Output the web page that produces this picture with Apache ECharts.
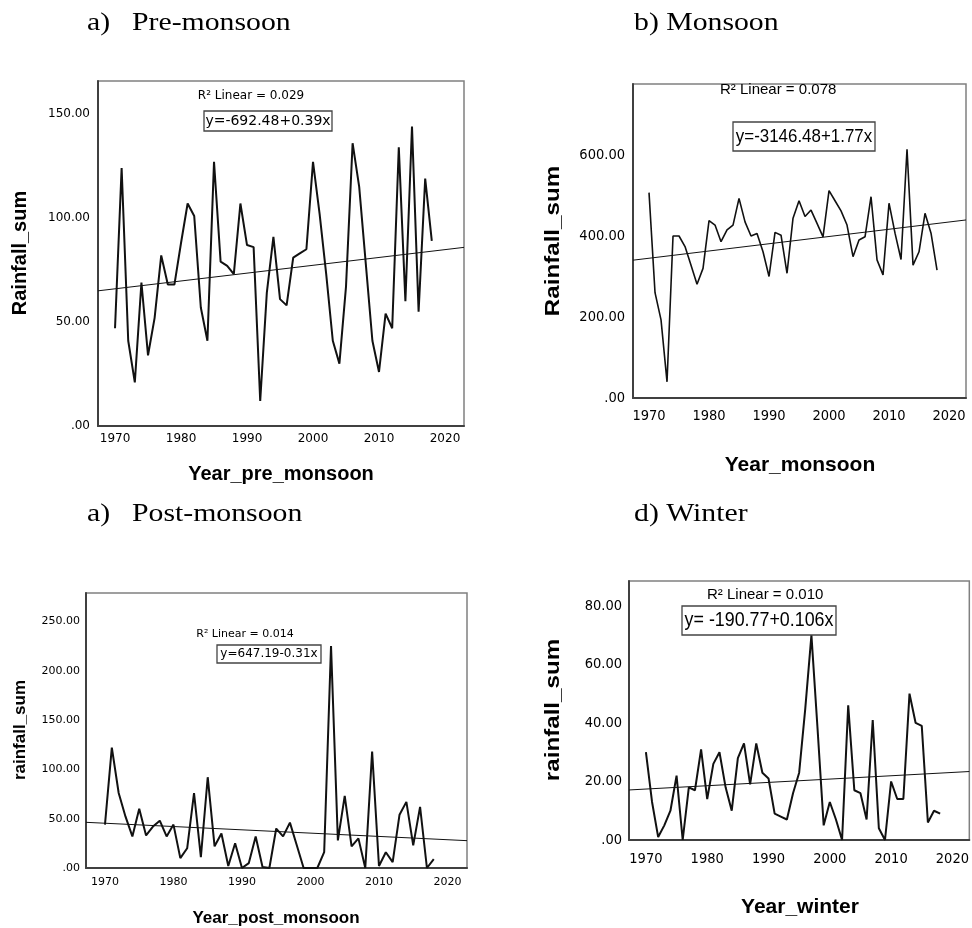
<!DOCTYPE html>
<html>
<head>
<meta charset="utf-8">
<title>Seasonal rainfall trend</title>
<script src="https://cdn.jsdelivr.net/npm/echarts@6/dist/echarts.min.js"></script>
<style>
  html, body { margin: 0; padding: 0; background: #fff; }
  #main { width: 972px; height: 928px; }
</style>
</head>
<body>
<div id="main"></div>
<script>
// years on the x axis
var years = [1970, 1971, 1972, 1973, 1974, 1975, 1976, 1977, 1978, 1979,
             1980, 1981, 1982, 1983, 1984, 1985, 1986, 1987, 1988, 1989,
             1990, 1991, 1992, 1993, 1994, 1995, 1996, 1997, 1998, 1999,
             2000, 2001, 2002, 2003, 2004, 2005, 2006, 2007, 2008, 2009,
             2010, 2011, 2012, 2013, 2014, 2015, 2016, 2017, 2018];

// seasonal rainfall sums
var preMonsoon = [47, 124, 41, 21, 69, 34, 52, 82, 68, 68,
                  88, 107, 101, 57, 41, 127, 79, 77, 73, 107,
                  87, 86, 12, 64, 91, 61, 58, 81, 83, 85,
                  127, 102, 73, 41, 30, 67, 136, 115, 78, 41,
                  26, 54, 47, 134, 60, 144, 55, 119, 89];
var monsoon = [507, 260, 193, 40, 400, 400, 374, 328, 281, 320,
               438, 427, 386, 415, 427, 493, 435, 400, 406, 361,
               300, 409, 402, 308, 444, 487, 448, 464, 431, 398,
               512, 487, 462, 427, 349, 390, 398, 497, 341, 304,
               481, 407, 342, 614, 328, 361, 456, 407, 316];
var postMonsoon = [44, 122, 76, 52, 32, 60, 33, 42, 48, 32,
                   44, 10, 20, 76, 11, 92, 22, 35, 2, 25,
                   0, 5, 32, 1, 0, 40, 32, 46, 23, 0,
                   0, 0, 16, 225, 28, 73, 22, 30, 0, 118,
                   2, 16, 6, 54, 67, 23, 62, 0, 9];
var winter = [30, 13, 1, 5, 10, 22, 0, 18, 17, 31,
              14, 26, 30, 18, 10, 28, 33, 19, 33, 23,
              21, 9, 8, 7, 16, 23, 45, 70, 38, 5,
              13, 7, 0, 46, 17, 16, 7, 41, 4, 0,
              20, 14, 14, 50, 40, 39, 6, 10, 9];

// fitted lines, ends at the axis limits
var trendPre = [[1967.42, 65.0], [2022.88, 85.9]];
var trendMon = [[1967.33, 340.3], [2022.83, 439.6]];
var trendPost = [[1967.23, 46.3], [2022.85, 27.7]];
var trendWin = [[1967.24, 17.1], [2022.76, 23.4]];

// tick labels
var xTicks = [1970, 1980, 1990, 2000, 2010, 2020];
var yTicksPre = [0, 50, 100, 150];
var yTicksMon = [0, 200, 400, 600];
var yTicksPost = [0, 50, 100, 150, 200, 250];
var yTicksWin = [0, 20, 40, 60, 80];

var NARROW = "'DejaVu Sans Condensed', 'Liberation Sans', sans-serif";
var WIDE = "'DejaVu Sans', sans-serif";
var SANS = "'Liberation Sans', Arial, sans-serif";
var SERIF = "'Liberation Serif', 'Times New Roman', serif";

var panels = [
  { grid: { left: 98, top: 81, width: 366, height: 345 }, xMin: 1967.42, xMax: 2022.88, yMax: 165.9,
    yTicks: yTicksPre, values: preMonsoon, trend: trendPre, font: WIDE, size: 12,
    yPad: 6, yMargin: 8, xMargin: 7, lw: 2 },
  { grid: { left: 633, top: 84, width: 333, height: 314 }, xMin: 1967.33, xMax: 2022.83, yMax: 775.3,
    yTicks: yTicksMon, values: monsoon, trend: trendMon, font: NARROW, size: 14.5,
    yPad: 10, yMargin: 8, xMargin: 11, lw: 1.6 },
  { grid: { left: 86, top: 593, width: 381, height: 275 }, xMin: 1967.23, xMax: 2022.85, yMax: 278.7,
    yTicks: yTicksPost, values: postMonsoon, trend: trendPost, font: WIDE, size: 11,
    yPad: 2, yMargin: 6, xMargin: 9, lw: 2 },
  { grid: { left: 629, top: 581, width: 342, height: 259 }, xMin: 1967.24, xMax: 2022.76, yMax: 88.5,
    yTicks: yTicksWin, values: winter, trend: trendWin, font: NARROW, size: 14.5,
    yPad: 8, yMargin: 7, xMargin: 12, lw: 2 }
];

function fmtY(v) {
  return v === 0 ? '.00' : v.toFixed(2);
}
function fmtX(v) {
  return '' + v;
}

var grids = [], xAxes = [], yAxes = [], series = [];
panels.forEach(function (p, i) {
  grids.push({
    left: p.grid.left, top: p.grid.top, width: p.grid.width, height: p.grid.height,
    show: true, borderColor: '#808080', borderWidth: 1.5, backgroundColor: '#fff'
  });
  xAxes.push({
    type: 'value', gridIndex: i, min: p.xMin, max: p.xMax,
    axisLine: { show: true, lineStyle: { color: '#404040', width: 2 } },
    axisTick: { show: false },
    splitLine: { show: false },
    axisLabel: { customValues: xTicks, formatter: fmtX, color: '#000', fontFamily: p.font,
                 fontSize: p.size, margin: p.xMargin }
  });
  yAxes.push({
    type: 'value', gridIndex: i, min: 0, max: p.yMax,
    axisLine: { show: true, lineStyle: { color: '#404040', width: 2 } },
    axisTick: { show: false },
    splitLine: { show: false },
    axisLabel: { customValues: p.yTicks, formatter: fmtY, color: '#000', fontFamily: p.font,
                 fontSize: p.size, margin: p.yMargin, padding: [p.yPad, 0, 0, 0] }
  });
  series.push({
    type: 'line', xAxisIndex: i, yAxisIndex: i, symbol: 'none',
    data: years.map(function (y, k) { return [y, p.values[k]]; }),
    lineStyle: { color: '#111', width: p.lw }
  });
  series.push({
    type: 'line', xAxisIndex: i, yAxisIndex: i, symbol: 'none',
    data: p.trend,
    lineStyle: { color: '#111', width: 1 }
  });
});

function label(x, y, text, font, opts) {
  var el = { type: 'text', x: x, y: y, z: 100,
    style: { text: text, font: font, fill: '#000', align: 'left', verticalAlign: 'middle' } };
  if (opts) {
    if (opts.align) el.style.align = opts.align;
    if (opts.rotation) el.rotation = opts.rotation;
    if (opts.scaleX) el.scaleX = opts.scaleX;
  }
  return el;
}
function eqBox(x, y, w, h, text, font, sx) {
  return [
    { type: 'rect', z: 99, shape: { x: x, y: y, width: w, height: h },
      style: { fill: '#fff', stroke: '#444', lineWidth: 1.3 } },
    { type: 'text', z: 100, x: x + w / 2, y: y + h / 2, scaleX: sx || 1,
      style: { text: text, font: font, fill: '#000', align: 'center', verticalAlign: 'middle' } }
  ];
}

var graphics = [
  // headings
  label(87, 23, 'a)', '25px ' + SERIF, { scaleX: 1.19 }),
  label(132, 23, 'Pre-monsoon', '25px ' + SERIF, { scaleX: 1.19 }),
  label(634, 23, 'b) Monsoon', '25px ' + SERIF, { scaleX: 1.19 }),
  label(87, 514, 'a)', '25px ' + SERIF, { scaleX: 1.19 }),
  label(132, 514, 'Post-monsoon', '25px ' + SERIF, { scaleX: 1.19 }),
  label(634, 514, 'd) Winter', '25px ' + SERIF, { scaleX: 1.19 }),

  // axis titles
  label(20, 253, 'Rainfall_sum', 'bold 20px ' + SANS, { align: 'center', rotation: Math.PI / 2 }),
  label(281, 474, 'Year_pre_monsoon', 'bold 20px ' + SANS, { align: 'center' }),
  label(553, 241, 'Rainfall_sum', 'bold 21px ' + SANS, { align: 'center', rotation: Math.PI / 2, scaleX: 1.15 }),
  label(800, 465, 'Year_monsoon', 'bold 21px ' + SANS, { align: 'center' }),
  label(20, 730, 'rainfall_sum', 'bold 17px ' + SANS, { align: 'center', rotation: Math.PI / 2 }),
  label(276, 918, 'Year_post_monsoon', 'bold 17px ' + SANS, { align: 'center' }),
  label(553, 710, 'rainfall_sum', 'bold 21px ' + SANS, { align: 'center', rotation: Math.PI / 2, scaleX: 1.15 }),
  label(800, 907, 'Year_winter', 'bold 21px ' + SANS, { align: 'center' }),

  // fit notes
  label(251, 96, 'R\u00b2 Linear = 0.029', '12px ' + WIDE, { align: 'center' }),
  label(720, 90, 'R\u00b2 Linear = 0.078', '15px ' + SANS),
  label(245, 634, 'R\u00b2 Linear = 0.014', '11px ' + WIDE, { align: 'center' }),
  label(707, 595, 'R\u00b2 Linear = 0.010', '15px ' + SANS),
  // the two right-hand notes are cut along their lower edge in the source
  { type: 'rect', z: 101, shape: { x: 712, y: 94, width: 130, height: 4 }, style: { fill: '#fff' } },
  { type: 'rect', z: 101, shape: { x: 700, y: 599, width: 130, height: 4 }, style: { fill: '#fff' } }
].concat(
  eqBox(204, 111, 128, 20, 'y=-692.48+0.39x', '14px ' + WIDE),
  eqBox(733, 122, 142, 29, 'y=-3146.48+1.77x', '19px ' + SANS, 0.89),
  eqBox(217, 645, 104, 18, 'y=647.19-0.31x', '12px ' + WIDE),
  eqBox(682, 606, 154, 29, 'y= -190.77+0.106x', '21px ' + SANS, 0.85)
);

var chart = echarts.init(document.getElementById('main'));
chart.setOption({
  animation: false,
  backgroundColor: '#fff',
  grid: grids,
  xAxis: xAxes,
  yAxis: yAxes,
  series: series,
  graphic: graphics
});
</script>
</body>
</html>
